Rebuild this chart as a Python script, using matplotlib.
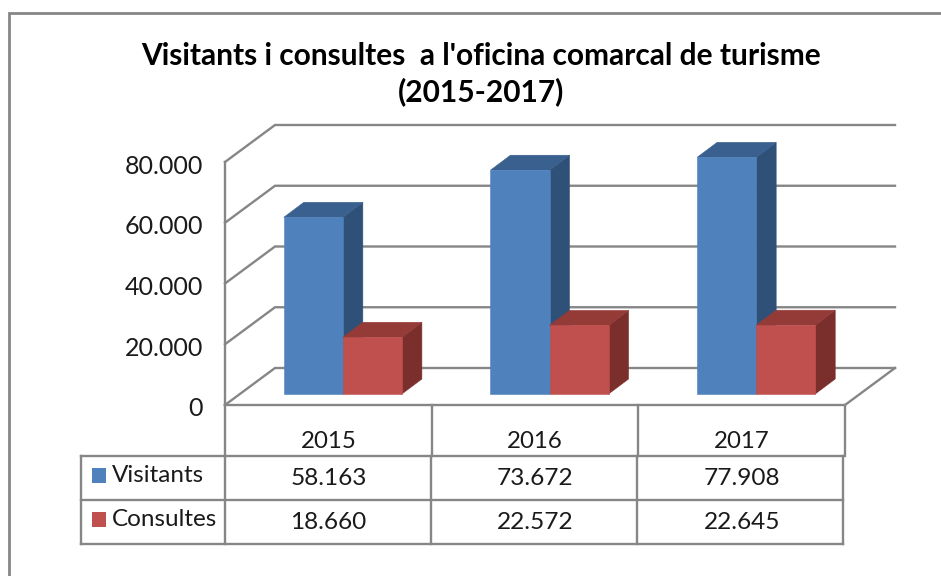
import matplotlib
matplotlib.use("Agg")
import matplotlib.pyplot as plt
from matplotlib.patches import Polygon
from matplotlib.transforms import ScaledTranslation

plt.rcParams['font.family'] = ['Lato', 'DejaVu Sans']

# ---- data ----
years = ['2015', '2016', '2017']
visitants = [58163, 73672, 77908]
consultes = [18660, 22572, 22645]
series_names = ['Visitants', 'Consultes']
y_ticks = [0, 20000, 40000, 60000, 80000]
title = "Visitants i consultes  a l'oficina comarcal de turisme\n(2015-2017)"

# ---- style / layout ----
W, H = 941, 576
GRID = '#868686'
TXT = '#1a1a1a'
BLUE = ('#4F81BD', '#3A6090', '#2F5077')
RED = ('#C0504D', '#943B38', '#7B2F2D')
L, R, T, B = 225, 845, 162, 405     # front plane of the 3D box, px
WALL_DX, WALL_DY = 50, 37           # box depth, px
BAR_DX, BAR_DY = 14.5, 11           # bar front offset, px
BAR_DEPTH_X, BAR_DEPTH_Y = 20, 15   # bar depth, px
BAR_W = 1 / 3.5

def thousands(v):
    return f'{v:,}'.replace(',', '.')

fig = plt.figure(figsize=(W / 100, H / 100), dpi=100, facecolor='white')

# overlay in pixel units for the frame and table
ov = fig.add_axes([0, 0, 1, 1], zorder=0)
ov.set_xlim(0, W)
ov.set_ylim(H, 0)
ov.axis('off')

# main axes: the front plane of the chart
ax = fig.add_axes([L / W, 1 - B / H, (R - L) / W, (B - T) / H], zorder=1)
ax.patch.set_alpha(0)
ax.set_xlim(0, len(years))
ax.set_ylim(0, y_ticks[-1])
for s in ax.spines.values():
    s.set_visible(False)

ux = len(years) / (R - L)       # data units per px
uy = y_ticks[-1] / (B - T)

def P(x, y, dx=0, dy=0):
    return (x + dx * ux, y + dy * uy)

# walls and gridlines
lw = 1.7
for v in y_ticks:
    a, b, c = P(0, v), P(0, v, WALL_DX, WALL_DY), P(len(years), v, WALL_DX, WALL_DY)
    ax.plot([a[0], b[0], c[0]], [a[1], b[1], c[1]], color=GRID, lw=lw, clip_on=False,
            solid_joinstyle='miter', zorder=1)
e = P(len(years), 0)
f = P(len(years), 0, WALL_DX, WALL_DY)
ax.plot([e[0], f[0]], [e[1], f[1]], color=GRID, lw=lw, clip_on=False, zorder=1)
ax.plot([0, 0], [0, y_ticks[-1]], color=GRID, lw=lw, clip_on=False, zorder=1)
ax.plot([0, len(years)], [0, 0], color=GRID, lw=lw, clip_on=False, zorder=1)

# bars
def bar3d(x0, v, cols, z):
    x1 = x0 + BAR_W
    a, b = P(x0, 0, BAR_DX, BAR_DY), P(x1, 0, BAR_DX, BAR_DY)
    c, d = P(x1, v, BAR_DX, BAR_DY), P(x0, v, BAR_DX, BAR_DY)
    DX, DY = BAR_DX + BAR_DEPTH_X, BAR_DY + BAR_DEPTH_Y
    front = [a, b, c, d]
    top = [d, c, P(x1, v, DX, DY), P(x0, v, DX, DY)]
    side = [b, P(x1, 0, DX, DY), P(x1, v, DX, DY), c]
    for pts, col in zip((side, top, front), (cols[2], cols[1], cols[0])):
        ax.add_patch(Polygon(pts, closed=True, facecolor=col, edgecolor=col,
                             lw=0.4, clip_on=False, zorder=z))

for i in range(len(years)):
    x0 = i + (1 - 2 * BAR_W) / 2
    bar3d(x0, visitants[i], BLUE, 3)
    bar3d(x0 + BAR_W, consultes[i], RED, 4)

# axis labels
ax.set_yticks(y_ticks)
ax.set_yticklabels([thousands(v) for v in y_ticks], fontsize=18, color=TXT)
ax.tick_params(axis='y', length=0, pad=16)
shift = ScaledTranslation(0, -2 / 100, fig.dpi_scale_trans)
for lab in ax.get_yticklabels():
    lab.set_transform(lab.get_transform() + shift)
ax.set_xticks([i + 0.5 for i in range(len(years))])
ax.set_xticklabels(years, fontsize=17.3, color=TXT)
ax.tick_params(axis='x', length=0, pad=19)

# data table
rows = [455.5, 499.5, 544]
tx0 = 81
lower_w = 206
for y in rows:
    ov.plot([tx0, L + 3 * lower_w], [y, y], color=GRID, lw=1.7, solid_capstyle='projecting')
ov.plot([tx0, tx0], [rows[0], rows[-1]], color=GRID, lw=1.7)
for i in range(len(years) + 1):
    x = L + i * (R - L) / len(years)
    ov.plot([x, x], [B, rows[0]], color=GRID, lw=1.7)
    x2 = L + i * lower_w
    ov.plot([x2, x2], [rows[0], rows[-1]], color=GRID, lw=1.7)

for r, (name, vals, col) in enumerate(zip(series_names, (visitants, consultes), (BLUE[0], RED[0]))):
    yc = (rows[r] + rows[r + 1]) / 2
    ov.add_patch(Polygon([(92, yc - 9.5), (106, yc - 9.5), (106, yc + 5), (92, yc + 5)],
                         closed=True, facecolor=col, edgecolor='none'))
    ov.text(112, yc - 2, name, fontsize=17.5, color=TXT, ha='left', va='center')
    for i, v in enumerate(vals):
        ov.text(L + (i + 0.5) * (R - L) / len(years), yc + 1, thousands(v), fontsize=17.6,
                color=TXT, ha='center', va='center')

# outer frame
fx0, fy0 = 9.5, 12.5
ov.plot([fx0, fx0, W], [H, fy0, fy0], color=GRID, lw=2, solid_joinstyle='miter')

# title
ov.text(481, 74, title, fontsize=21.5, fontweight='bold', color='black', ha='center',
        va='center', linespacing=1.33)

fig.savefig('out.png', dpi=100, facecolor='white')
